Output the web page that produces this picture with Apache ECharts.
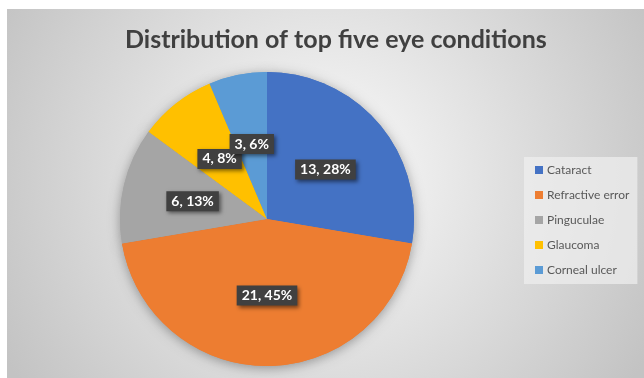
<!DOCTYPE html>
<html><head><meta charset="utf-8">
<script src="https://cdn.jsdelivr.net/npm/echarts@6/dist/echarts.min.js"></script>
<style>html,body{margin:0;padding:0;background:#fff}#c{width:644px;height:378px}</style>
</head><body><div id="c"></div>
<script>
const categories = ['Cataract', 'Refractive error', 'Pinguculae', 'Glaucoma', 'Corneal ulcer'];
const values = [13, 21, 6, 4, 3];
const colors = ['#4472C4', '#ED7D31', '#A5A5A5', '#FFC000', '#5B9BD5'];
const titleText = 'Distribution of top five eye conditions';

const data = categories.map((n, i) => ({ name: n, value: values[i], itemStyle: { color: colors[i] } }));
const chart = echarts.init(document.getElementById('c'));
chart.setOption({
  animation: false,
  graphic: [{
    type: 'rect', z: -10, silent: true,
    shape: { x: 7, y: 9, width: 637, height: 369 },
    style: { fill: new echarts.graphic.RadialGradient(0.5, 0.45, 1, [
      { offset: 0, color: '#fbfbfb' }, { offset: 1, color: '#c3c3c3' }]) }
  }],
  title: {
    text: titleText, left: 120, top: 22,
    textStyle: { fontFamily: 'Lato', fontWeight: 'bold', fontSize: 25, color: '#404040' }
  },
  legend: {
    orient: 'vertical', left: 524, top: 157,
    padding: [6, 8, 7, 11],
    backgroundColor: 'rgba(240,240,240,0.7)',
    itemWidth: 8, itemHeight: 8, itemGap: 11, icon: 'rect',
    textStyle: { fontFamily: 'Lato', fontSize: 12, color: '#595959', lineHeight: 14, padding: [0, 0, 0, -1] },
    data: categories
  },
  series: [{
    type: 'pie', silent: true, center: [267, 219], radius: 147, z: 1,
    avoidLabelOverlap: false,
    label: { show: false }, labelLine: { show: false },
    itemStyle: { shadowBlur: 12, shadowColor: 'rgba(0,0,0,0.35)', shadowOffsetY: 2 },
    data: data
  }, {
    type: 'pie', center: [267, 219], radius: 147, z: 2,
    percentPrecision: 0, avoidLabelOverlap: false, minShowLabelAngle: 0,
    labelLayout: { hideOverlap: false },
    label: {
      show: true, position: 'inside', formatter: '{c}, {d}%',
      fontFamily: 'Lato', fontWeight: 'bold', fontSize: 14, color: '#fff',
      backgroundColor: '#404040', padding: [3, 5, 3, 5], overflow: 'none',
      shadowBlur: 4, shadowColor: 'rgba(0,0,0,0.5)', shadowOffsetX: 2, shadowOffsetY: 2
    },
    labelLine: { show: false },
    data: data
  }]
});
</script></body></html>
